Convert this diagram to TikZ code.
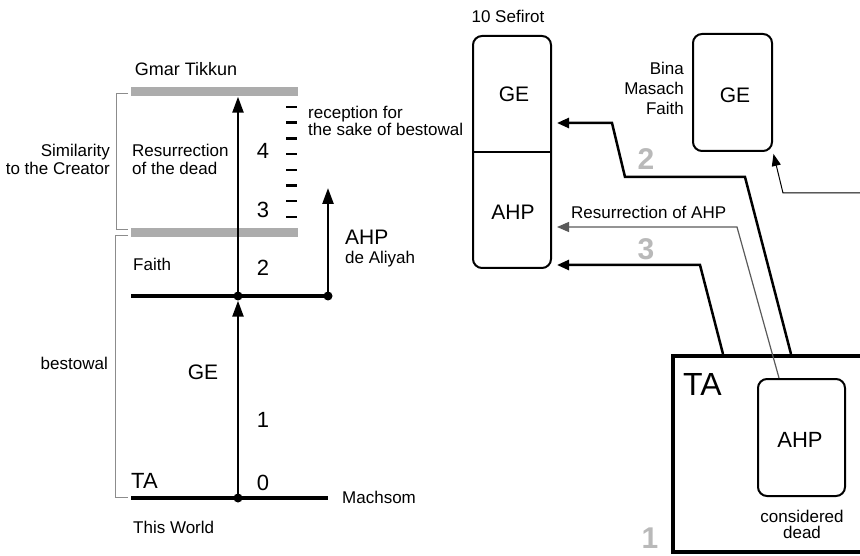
\documentclass[tikz,border=0pt]{standalone}
\usepackage{fontspec}
\setmainfont{Liberation Sans}
\usetikzlibrary{arrows.meta,calc}
\definecolor{barg}{RGB}{172,172,172}
\definecolor{numg}{RGB}{185,185,185}
\definecolor{brkg}{RGB}{140,140,140}
\definecolor{thing}{RGB}{90,90,90}
\begin{document}
\begin{tikzpicture}[x=1pt,y=-1pt,
  lab/.style={inner sep=0pt, font=\fontsize{17}{20}\selectfont},
  big/.style={inner sep=0pt, font=\fontsize{21}{24}\selectfont},
  dig/.style={inner sep=0pt, font=\fontsize{22}{24}\selectfont},
  huge/.style={inner sep=0pt, font=\fontsize{32}{34}\selectfont},
  gnum/.style={inner sep=0pt, text=numg, font=\fontsize{30}{30}\selectfont\bfseries},
  rbox/.style={draw, line width=2pt, rounded corners=9pt, inner sep=0pt},
  gbar/.style={fill=barg, inner sep=0pt, minimum height=9pt, minimum width=167pt},
  dot/.style={circle, fill, inner sep=0pt, minimum size=9pt},
  hline/.style={line width=4.5pt},
  varrow/.style={line width=2.5pt, -{Triangle[length=16pt,width=11pt]}},
  conn/.style={line width=2.5pt, -{Triangle[length=12pt,width=10pt]}, shorten >=5pt},
  thinconn/.style={line width=1.2pt, draw=thing, -{Triangle[length=12pt,width=10pt]}, shorten >=5pt},
  binaconn/.style={line width=1pt, -{Triangle[length=12pt,width=9pt]}, shorten >=2pt},
  brk/.style={draw=brkg, line width=1pt},
  tick/.style={line width=2.5pt}
]
\path[use as bounding box] (0,0) rectangle (860,556);
\clip (0,0) rectangle (860,556);

% ---------- left part ----------
\node[gbar] (barT) at (214.5,92) {};
\node[gbar] (barB) at (214.5,232.5) {};
\node[lab, font=\fontsize{18}{20}\selectfont, anchor=base] (gmar) at (186,76) {Gmar Tikkun};

\draw[brk] (128,94) -- (116,94) -- (116,230) -- (128,230);
\draw[brk] (128,236) -- (115,236) -- (115,497) -- (128,497);

\node[lab, anchor=base east] (sim1) at (110,157) {Similarity};
\node[lab, anchor=base east] (sim2) at (110,175) {to the Creator};
\node[lab, anchor=base west] (res1) at (132,157) {Resurrection};
\node[lab, anchor=base west] (res2) at (132,175) {of the dead};
\node[lab, anchor=base west] (rec1) at (308,119) {reception for};
\node[lab, anchor=base west] (rec2) at (308,136) {the sake of bestowal};

\foreach \i in {0,...,7} {
  \draw[tick] (286,{107+15.7*\i}) -- (297,{107+15.7*\i});
}

\node[dig, anchor=base] (n4) at (263,159) {4};
\node[dig, anchor=base] (n3) at (263,218) {3};
\node[dig, anchor=base] (n2) at (263,276) {2};
\node[dig, anchor=base] (n1) at (263,427) {1};
\node[dig, anchor=base] (n0) at (263,490) {0};

\node[lab, anchor=base west] (faith) at (133,271) {Faith};
\node[big, anchor=base west] (ahpA) at (345,245) {AHP};
\node[lab, anchor=base west] (deal) at (345,264) {de Aliyah};
\node[lab, anchor=base east] (bestowal) at (108,369) {bestowal};
\node[big, anchor=base] (geL) at (203,379) {GE};
\node[big, font=\fontsize{22}{24}\selectfont, anchor=base west] (taL) at (131,488) {TA};
\node[lab, anchor=base west] (machsom) at (342,503) {Machsom};
\node[lab, anchor=base west] (world) at (133,533) {This World};

\coordinate (fL) at (131,296);
\node[dot] (d1) at (238,296) {};
\node[dot] (d2) at (328,296) {};
\draw[hline] (fL) -- (d2.center);
\coordinate (mL) at (131,498);
\coordinate (mR) at (328,498);
\node[dot] (d0) at (238,498) {};
\draw[hline] (mL) -- (mR);

\draw[varrow] (d0.center) -- (d1.south);
\draw[varrow] (d1.center) -- (barT.south -| d1);
\coordinate (ahpTop) at (328,188);
\draw[varrow] (d2.center) -- (ahpTop);

% ---------- right part ----------
\node[lab, anchor=base] (sefirot) at (508,23) {10 Sefirot};
\node[rbox, minimum width=78pt, minimum height=232pt] (sef) at (512,152) {};
\draw[line width=2pt] (sef.west) -- (sef.east);
\node[big, anchor=base] (sefGE) at (514,102) {GE};
\node[big, anchor=base] (sefAHP) at (513,220) {AHP};

\node[rbox, minimum width=79pt, minimum height=117pt] (bina) at (732.5,92.5) {};
\node[big, anchor=base] (binaGE) at (735,103) {GE};
\node[lab, anchor=base east] (b1) at (684,75) {Bina};
\node[lab, anchor=base east] (b2) at (684,95) {Masach};
\node[lab, anchor=base east] (b3) at (684,115) {Faith};

\node[draw, line width=4pt, inner sep=0pt, minimum width=207pt, minimum height=196pt] (ta) at (776.5,454) {};
\node[huge, anchor=base west] (taR) at (683,395) {TA};
\node[rbox, minimum width=87pt, minimum height=117pt] (iahp) at (801.5,437.5) {};
\node[big, font=\fontsize{22}{24}\selectfont, anchor=base] (iahpT) at (800,447) {AHP};
\node[lab, anchor=base] (cons1) at (802,522) {considered};
\node[lab, anchor=base] (cons2) at (802,538) {dead};

\node[gnum, anchor=base] (g2) at (646,170) {2};
\node[gnum, anchor=base] (g3) at (646,260) {3};
\node[gnum, anchor=base] (g1) at (650,548) {1};
\node[lab, anchor=base west] (resAHP) at (571,219) {Resurrection of AHP};

\path (ta.north west) ++(120,0) coordinate (s2);
\path (ta.north west) ++(52,0) coordinate (s3);
\path (iahp.north west) ++(22,0) coordinate (sT);
\coordinate (c2a) at (745,177);
\coordinate (c2b) at (625,177);
\coordinate (c2c) at (612,123);
\coordinate (cTa) at (737,227);
\coordinate (c3a) at (700,265);
\coordinate (bR) at (870,193);
\coordinate (bA) at (783,193);

\draw[conn] (s2) -- (c2a) -- (c2b) -- (c2c) -- (sef.east |- c2c);
\draw[thinconn] (sT) -- (cTa) -- (sef.east |- cTa);
\draw[conn] (s3) -- (c3a) -- (sef.east |- c3a);
\draw[binaconn] (bR) -- (bA) -- (bina.south east);
\end{tikzpicture}
\end{document}
